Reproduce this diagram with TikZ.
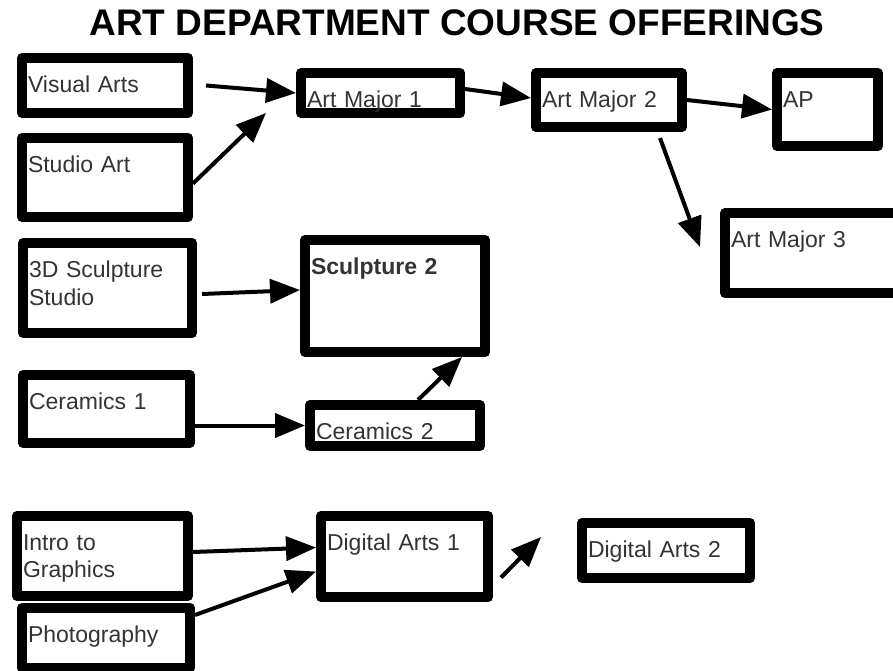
\documentclass[tikz,border=0pt]{standalone}
\usepackage{fontspec}
\setmainfont{Liberation Sans}
\usetikzlibrary{arrows.meta}
\definecolor{coursetext}{HTML}{333333}
\tikzset{>={Triangle[length=30pt,width=24pt]}}
\tikzset{course/.style={draw, line width=10pt, line join=round, anchor=north west, inner sep=0pt, inner xsep=6pt, text height=34pt, align=left, text=coursetext, font=\fontsize{23}{28}\selectfont}}
\tikzset{link/.style={->, line width=4pt}}

\begin{document}
\begin{tikzpicture}[x=1pt, y=-1pt]
            \clip (0, 0) rectangle (893, 670);
            \node[font=\fontsize{37}{42}\selectfont\bfseries, anchor=base] (title) at (457, 35) {ART DEPARTMENT COURSE OFFERINGS};
            \node[course, text width=154pt, text depth=21pt] (visual) at (17, 53) {Visual Arts};
            \node[course, text width=154pt, text depth=45pt] (studio) at (17, 133) {Studio Art};
            \node[course, text width=147pt, text depth=6pt] (major1) at (296, 68) {Art Major 1};
            \node[course, text width=134pt, text depth=20pt] (major2) at (531, 68) {Art Major 2};
            \node[course, text width=89pt, text depth=39pt] (ap) at (772, 68) {AP};
            \node[course, text width=178pt, text depth=46pt] (major3) at (720, 208) {Art Major 3};
            \node[course, text width=157pt, text depth=56pt] (sculpt3d) at (18, 238) {3D Sculpture\\Studio};
            \node[course, text width=168pt, text depth=78pt, font=\fontsize{23}{28}\selectfont\bfseries] (sculpt2) at (300, 235) {Sculpture 2};
            \node[course, text width=155pt, text depth=34pt] (ceramics1) at (18, 370) {Ceramics 1};
            \node[course, text width=158pt, text depth=7pt] (ceramics2) at (305, 400) {Ceramics 2};
            \node[course, text width=159pt, text depth=46pt, font=\fontsize{23}{27}\selectfont] (intro) at (12, 511) {Intro to\\Graphics};
            \node[course, text width=156pt, text depth=26pt] (photo) at (17, 603) {Photography};
            \node[course, text width=155pt, text depth=47pt] (digital1) at (316, 511) {Digital Arts 1};
            \node[course, text width=156pt, text depth=21pt] (digital2) at (577, 518) {Digital Arts 2};
            \coordinate (major1in) at (266, 113);
            \coordinate (major3in) at (700, 247);
            \coordinate (sculpt2in) at (462, 357);
            \coordinate (digital2in) at (541, 537);
            \draw[link] ([xshift=13pt]visual.east) -- (major1.west);
            \draw[link] ([yshift=-6pt]studio.east) -- (major1in);
            \draw[link] ([yshift=4pt]major1.east) -- ([yshift=2pt]major2.west);
            \draw[link] (major2.east) -- (ap.west);
            \draw[link] ([xshift=51pt, yshift=-6pt]major2.south) -- (major3in);
            \draw[link] ([xshift=5pt, yshift=-6pt]sculpt3d.east) -- ([yshift=6pt]sculpt2.west);
            \draw[link] (ceramics1.east |- ceramics2.west) -- (ceramics2.west);
            \draw[link] ([xshift=23pt]ceramics2.north) -- (sculpt2in);
            \draw[link] ([yshift=4pt]intro.east) -- ([yshift=9pt]digital1.west);
            \draw[link] ([yshift=23pt]photo.east) -- ([yshift=-15pt]digital1.west);
            \draw[link] ([xshift=8pt, yshift=-21pt]digital1.east) -- (digital2in);
        \end{tikzpicture}
\end{document}
